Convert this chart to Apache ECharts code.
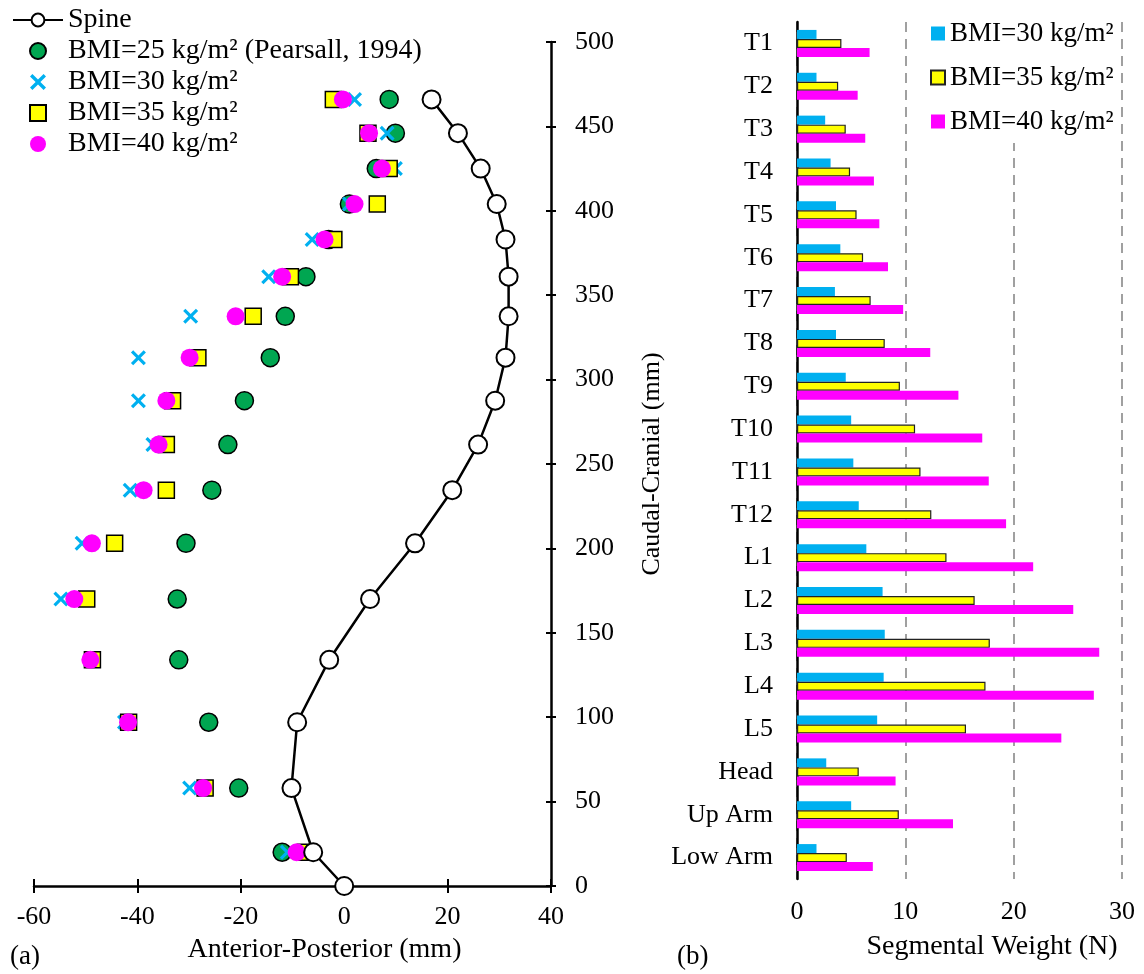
<!DOCTYPE html>
<html>
<head>
<meta charset="utf-8">
<script src="https://cdn.jsdelivr.net/npm/echarts@6/dist/echarts.min.js"></script>
<style>
html, body { margin:0; padding:0; background:#fff; }
#chartA { position:absolute; left:0; top:0; width:668px; height:974px; }
#chartB { position:absolute; left:668px; top:0; width:476px; height:974px; }
</style>
</head>
<body>
<div id="chartA"></div>
<div id="chartB"></div>
<script>
// (a) spine profile and centre of mass positions (mm)
const spineY = [0, 20, 58, 97, 134, 170, 203, 234.5, 261.5, 287.5, 313, 337.5, 361, 383, 404, 425, 446, 466];
const spineX = [0, -6, -10.2, -9.1, -2.9, 5.0, 13.7, 20.9, 25.9, 29.2, 31.2, 31.8, 31.8, 31.2, 29.5, 26.4, 22.0, 16.9];
const levelY = [20, 58, 97, 134, 170, 203, 234.5, 261.5, 287.5, 313, 337.5, 361, 383, 404, 425, 446, 466];
const bmi25X = [-12.0, -20.4, -26.2, -32.0, -32.3, -30.6, -25.6, -22.5, -19.3, -14.3, -11.4, -7.4, -3.0, 1.0, 6.2, 9.9, 8.7];
const bmi30X = [-11.0, -29.9, -42.5, -49.0, -54.8, -50.7, -41.4, -37.0, -39.8, -39.8, -29.7, -14.6, -6.2, 1.0, 9.9, 8.3, 2.0];
const bmi35X = [-7.5, -26.9, -41.7, -48.7, -49.8, -44.4, -34.4, -34.4, -33.2, -28.3, -17.6, -10.4, -2.0, 6.4, 8.7, 4.6, -2.1];
const bmi40X = [-9.2, -27.3, -41.8, -49.1, -52.2, -48.8, -38.8, -35.9, -34.4, -29.9, -21.0, -12.0, -3.8, 2.0, 7.3, 4.8, -0.25];

// (b) segmental weight (N)
const segments = ['T1', 'T2', 'T3', 'T4', 'T5', 'T6', 'T7', 'T8', 'T9', 'T10', 'T11', 'T12',
                  'L1', 'L2', 'L3', 'L4', 'L5', 'Head', 'Up Arm', 'Low Arm'];
const w30 = [1.8, 1.8, 2.6, 3.1, 3.6, 4.0, 3.5, 3.6, 4.5, 5.0, 5.2, 5.7, 6.4, 7.9, 8.1, 8.0, 7.4, 2.7, 5.0, 1.8];
const w35 = [4.1, 3.8, 4.5, 4.9, 5.5, 6.1, 6.8, 8.1, 9.5, 10.9, 11.4, 12.4, 13.8, 16.4, 17.8, 17.4, 15.6, 5.7, 9.4, 4.6];
const w40 = [6.7, 5.6, 6.3, 7.1, 7.6, 8.4, 9.8, 12.3, 14.9, 17.1, 17.7, 19.3, 21.8, 25.5, 27.9, 27.4, 24.4, 9.1, 14.4, 7.0];

const serif = 'Liberation Serif';
const cyan = '#00B0F0', yellow = '#FFFF00', magenta = '#FF00FF', green = '#00A651';
const crossPath = 'path://M0,3 L3,0 L10,7 L17,0 L20,3 L13,10 L20,17 L17,20 L10,13 L3,20 L0,17 L7,10 Z';
const squarePath = 'path://M0,0 L10,0 L10,10 L0,10 Z';

function pairs(xs, ys) {
    return xs.map((x, i) => [x, ys[i]]);
}

// ---------- panel (a)
const chartA = echarts.init(document.getElementById('chartA'));
const tickAxis = {
    axisLine: { onZero: false, lineStyle: { color: '#000', width: 2.5 } },
    splitLine: { show: false }
};
chartA.setOption({
    animation: false,
    textStyle: { fontFamily: serif },
    legend: {
        orient: 'vertical',
        left: 12,
        top: 6,
        padding: 0,
        itemWidth: 50,
        itemHeight: 16,
        itemGap: 3,
        textStyle: { fontFamily: serif, fontSize: 28, lineHeight: 28, color: '#000' },
        data: ['Spine', 'BMI=25 kg/m² (Pearsall, 1994)', 'BMI=30 kg/m²', 'BMI=35 kg/m²', 'BMI=40 kg/m²']
    },
    grid: { left: 34, right: 117, top: 42, bottom: 88, outerBoundsMode: 'none' },
    xAxis: [
        Object.assign({}, tickAxis, {
            type: 'value', min: -60, max: 40, interval: 20, position: 'bottom',
            axisTick: { inside: false, length: 7, lineStyle: { color: '#000', width: 2 } },
            axisLabel: { fontFamily: serif, fontSize: 26, color: '#000', margin: 18 },
            name: 'Anterior-Posterior (mm)', nameLocation: 'middle', nameGap: 50,
            nameTextStyle: { fontFamily: serif, fontSize: 28, color: '#000', padding: [0, 0, 0, 64] }
        }),
        Object.assign({}, tickAxis, {
            type: 'value', min: -60, max: 40, interval: 20, position: 'bottom',
            axisLine: { show: false, onZero: false },
            axisTick: { inside: true, length: 7, lineStyle: { color: '#000', width: 2 } },
            axisLabel: { show: false }
        })
    ],
    yAxis: [
        Object.assign({}, tickAxis, {
            type: 'value', min: 0, max: 500, interval: 50, position: 'right',
            axisTick: { inside: false, length: 5, lineStyle: { color: '#000', width: 2 } },
            axisLabel: { fontFamily: serif, fontSize: 26, color: '#000', margin: 24 },
            name: 'Caudal-Cranial (mm)', nameLocation: 'middle', nameGap: 88, nameRotate: 90,
            nameTextStyle: { fontFamily: serif, fontSize: 26, color: '#000' }
        }),
        Object.assign({}, tickAxis, {
            type: 'value', min: 0, max: 500, interval: 50, position: 'right',
            axisLine: { show: false, onZero: false },
            axisTick: { inside: true, length: 5, lineStyle: { color: '#000', width: 2 } },
            axisLabel: { show: false }
        })
    ],
    graphic: [{
        type: 'text', left: 10, top: 943,
        style: { text: '(a)', font: '27px "Liberation Serif"', fill: '#000' }
    }],
    series: [
        {
            name: 'Spine', type: 'line', data: pairs(spineX, spineY),
            symbol: 'circle', symbolSize: 18,
            lineStyle: { color: '#000', width: 2.5 },
            itemStyle: { color: '#fff', borderColor: '#000', borderWidth: 2 }
        },
        {
            name: 'BMI=25 kg/m² (Pearsall, 1994)', type: 'scatter', data: pairs(bmi25X, levelY),
            symbol: 'circle', symbolSize: 18,
            itemStyle: { color: green, borderColor: '#000', borderWidth: 1.5, opacity: 1 }
        },
        {
            name: 'BMI=30 kg/m²', type: 'scatter', data: pairs(bmi30X, levelY),
            symbol: crossPath, symbolSize: 15,
            itemStyle: { color: cyan, opacity: 1 }
        },
        {
            name: 'BMI=35 kg/m²', type: 'scatter', data: pairs(bmi35X, levelY),
            symbol: squarePath, symbolSize: 16,
            itemStyle: { color: yellow, borderColor: '#000', borderWidth: 1.5, opacity: 1 }
        },
        {
            name: 'BMI=40 kg/m²', type: 'scatter', data: pairs(bmi40X, levelY),
            symbol: 'circle', symbolSize: 18,
            itemStyle: { color: magenta, opacity: 1 }
        }
    ]
});

// ---------- panel (b)
const chartB = echarts.init(document.getElementById('chartB'));
chartB.setOption({
    animation: false,
    textStyle: { fontFamily: serif },
    legend: {
        orient: 'vertical',
        left: 258,
        top: 12,
        padding: [8, 6, 8, 4],
        backgroundColor: '#fff',
        icon: 'rect',
        itemWidth: 14,
        itemHeight: 14,
        itemGap: 17,
        textStyle: { fontFamily: serif, fontSize: 27, lineHeight: 27, color: '#000' },
        data: ['BMI=30 kg/m²', 'BMI=35 kg/m²', 'BMI=40 kg/m²']
    },
    grid: { left: 129, right: 22, top: 22, bottom: 95, outerBoundsMode: 'none' },
    xAxis: {
        type: 'value', min: 0, max: 30, interval: 10,
        axisLine: { show: false },
        axisTick: { show: false },
        axisLabel: { fontFamily: serif, fontSize: 26, color: '#000', margin: 20 },
        splitLine: { show: true, lineStyle: { color: '#a0a0a0', width: 2, type: [10, 7] } },
        name: 'Segmental Weight (N)', nameLocation: 'middle', nameGap: 54,
        nameTextStyle: { fontFamily: serif, fontSize: 28, color: '#000', padding: [0, 0, 0, 65] }
    },
    yAxis: {
        type: 'category', data: segments, inverse: true,
        axisLine: { onZero: false, lineStyle: { color: '#000', width: 2.5 } },
        axisTick: { show: false },
        axisLabel: { fontFamily: serif, fontSize: 26, color: '#000', margin: 24 }
    },
    graphic: [{
        type: 'text', left: 9, top: 943,
        style: { text: '(b)', font: '27px "Liberation Serif"', fill: '#000' }
    }],
    series: [
        {
            name: 'BMI=30 kg/m²', type: 'bar', data: w30,
            barWidth: 9, barGap: '0%',
            itemStyle: { color: cyan }
        },
        {
            name: 'BMI=35 kg/m²', type: 'bar', data: w35,
            barWidth: 9, barGap: '0%',
            itemStyle: { color: yellow, borderColor: '#222', borderWidth: 1.2 }
        },
        {
            name: 'BMI=40 kg/m²', type: 'bar', data: w40,
            barWidth: 9, barGap: '0%',
            itemStyle: { color: magenta }
        }
    ]
});
</script>
</body>
</html>
